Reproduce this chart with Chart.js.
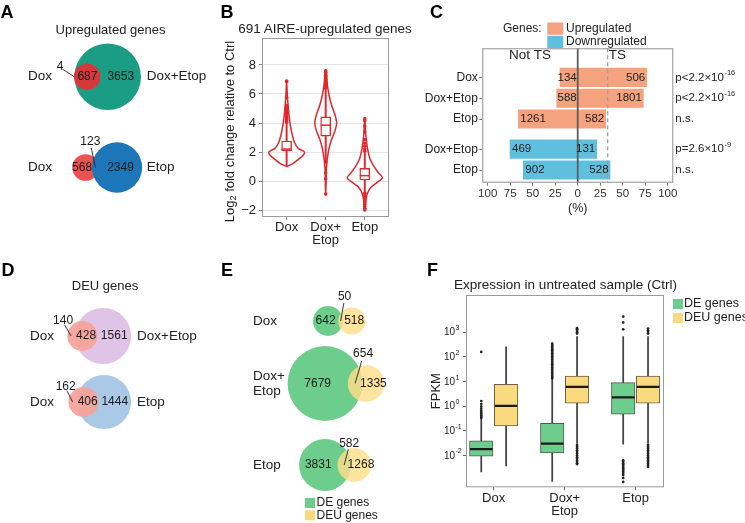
<!DOCTYPE html>
<html>
<head>
<meta charset="utf-8">
<title>AIRE-regulated genes under Dox / Etop</title>
<script src="https://cdn.jsdelivr.net/npm/chart.js@4.4.1/dist/chart.umd.min.js"></script>
<style>
  html, body { margin: 0; padding: 0; background: #fff; }
  body { position: relative; width: 745px; height: 523px; overflow: hidden;
         font-family: 'Liberation Sans', Arial, Helvetica, sans-serif; color: #222; }
  canvas { position: absolute; }
  .txt { position: absolute; white-space: nowrap; line-height: 1; }
</style>
</head>
<body>
<canvas id="venA" width="220" height="260" style="left:0px;top:0px"></canvas>
<canvas id="violin" width="240" height="245" style="left:200px;top:15px"></canvas>
<canvas id="tsBars" width="340" height="210" style="left:405px;top:10px"></canvas>
<canvas id="venD" width="220" height="263" style="left:0px;top:260px"></canvas>
<canvas id="venE" width="220" height="263" style="left:220px;top:260px"></canvas>
<canvas id="fpkm" width="320" height="258" style="left:425px;top:265px"></canvas>
<script>
// ---------------- data ----------------
const treatments = ['Dox', 'Dox+Etop', 'Etop'];

// A: upregulated genes  [left only, shared, right only]
const upDoxVsDoxEtop = [4, 687, 3653];
const upDoxVsEtop = [568, 123, 2349];

// B: log2 fold change of the 691 AIRE-upregulated genes (violin outline + box)
const violinYDox = [1.0, 1.22, 1.56, 1.79, 1.98, 2.1, 2.25, 2.6, 3.17, 3.86, 4.55, 5.47, 6.1, 6.9];
const violinWDox = [0, 0.17, 0.33, 0.43, 0.46, 0.40, 0.30, 0.21, 0.145, 0.095, 0.06, 0.03, 0.015, 0];
const violinYDoxEtop = [-0.92, -0.05, 0.87, 1.56, 2.25, 2.83, 3.4, 3.98, 4.55, 5.24, 5.93, 6.62, 7.54, 7.65];
const violinWDoxEtop = [0, 0.01, 0.017, 0.043, 0.085, 0.145, 0.23, 0.28, 0.24, 0.15, 0.085, 0.043, 0.01, 0];
const violinYEtop = [-2.0, -1.66, -1.2, -0.74, -0.39, -0.09, 0.23, 0.6, 0.99, 1.56, 2.25, 3.17, 4.32];
const violinWEtop = [0, 0.015, 0.035, 0.085, 0.17, 0.32, 0.45, 0.34, 0.24, 0.13, 0.07, 0.026, 0];
const bQ1 = [2.07, 3.1, 0.07];
const bMedian = [2.2, 3.85, 0.37];
const bQ3 = [2.76, 4.42, 0.87];
const bWhiskLo = [1.05, 1.4, -0.8];
const bWhiskHi = [4.0, 6.3, 1.95];
const bOutDox = [6.9, 6.85, 5.75, 5.2, 5.05, 4.95, 4.85, 4.7, 4.6, 4.45, 4.35, 4.25, 4.15, 4.05];
const bOutDoxEtop = [7.6, 7.5, 7.4, 7.3, 7.2, 7.1, 7.0, 6.9, 6.8, 6.7, 6.6, 6.5, 6.4, 1.3, 0.55, 0.15, -0.9];
const bOutEtop = [4.3, 4.15, 3.8, 3.4, 2.85, 2.6, 2.4, 2.2, 2.05, -0.85, -1.0, -1.15, -1.3, -1.45, -1.6, -1.75, -1.9, -2.0];
const bTicks = [-2, 0, 2, 4, 6, 8];

// C: tissue-specific (TS) share of regulated genes
const tsRows = ['Dox', 'Dox+Etop', 'Etop', 'Dox+Etop', 'Etop'];
const tsDirection = ['Upregulated', 'Upregulated', 'Upregulated', 'Downregulated', 'Downregulated'];
const notTsCount = [134, 588, 1261, 469, 902];
const tsCount = [506, 1801, 582, 131, 528];
const notTsPct = [19.7, 23.3, 66.0, 75.2, 60.4];
const tsPct = [76.7, 72.9, 31.1, 21.1, 35.9];
const pText = ['p<2.2×10', 'p<2.2×10', 'n.s.', 'p=2.6×10', 'n.s.'];
const pExp = ['-16', '-16', '', '-9', ''];
const tsReference = 33.3;
const pctTicks = [-100, -75, -50, -25, 0, 25, 50, 75, 100];

// D: DEU genes
const deuDoxVsDoxEtop = [140, 428, 1561];
const deuDoxVsEtop = [162, 406, 1444];

// E: DE genes vs DEU genes  [DE only, both, DEU only]
const deDeuDox = [642, 50, 518];
const deDeuDoxEtop = [7679, 654, 1335];
const deDeuEtop = [3831, 582, 1268];

// F: FPKM in untreated sample
const deQ1 = [0.0093, 0.0126, 0.47];
const deMedian = [0.0178, 0.030, 2.24];
const deQ3 = [0.039, 0.20, 8.9];
const deWhiskLo = [0.0021, 0.00087, 0.028];
const deWhiskHi = [0.30, 11.5, 660];
const deuQ1 = [0.155, 1.3, 1.3];
const deuMedian = [1.02, 6.0, 6.0];
const deuQ3 = [7.6, 16.6, 16.6];
const deuWhiskLo = [0.0037, 0.030, 0.030];
const deuWhiskHi = [257, 660, 660];
const deOutDox = [158, 1.6, 1.2, 0.95, 0.78, 0.65, 0.55, 0.47, 0.41, 0.36, 0.33];
const deOutDoxEtop = [340, 300, 265, 235, 205, 180, 160, 140, 120, 105, 90, 78, 67, 58, 50, 43, 37, 32, 27, 23, 20, 17, 15, 13];
const deOutEtop = [4300, 2500, 1300, 0.0063, 0.0055, 0.0048, 0.0042, 0.0037, 0.0032, 0.0028, 0.0025, 0.0022, 0.0019, 0.0016, 0.0012, 0.00083];
const deuOutDox = [];
const deuOutDoxEtop = [1450, 1300, 1150, 1000, 880, 0.026, 0.022, 0.019, 0.016, 0.0135, 0.0115, 0.0098, 0.0084, 0.0072, 0.0062, 0.0054, 0.0047, 0.0044];
const deuOutEtop = [1400, 1200, 1020, 880, 0.026, 0.022, 0.019, 0.016, 0.0135, 0.0115, 0.0098, 0.0084, 0.0072, 0.0062, 0.0054, 0.0046, 0.004, 0.0034];
const fpkmTickExp = [-2, -1, 0, 1, 2, 3];

// ---------------- setup ----------------
const FONT = "'Liberation Sans', Arial, Helvetica, sans-serif";
Chart.defaults.font.family = FONT;
Chart.defaults.font.size = 12;
Chart.defaults.color = '#222';
Chart.defaults.animation = false;
Chart.defaults.responsive = false;
Chart.defaults.events = [];
Chart.defaults.layout.autoPadding = false;
Chart.defaults.plugins.legend.display = false;
Chart.defaults.plugins.tooltip.enabled = false;

const splitPlus = name => name.includes('+')
  ? [name.slice(0, name.indexOf('+') + 1), name.slice(name.indexOf('+') + 1)]
  : name;

// html text for panel letters and titles
function label(text, x, y, size, align, bold) {
  const d = document.createElement('div');
  d.className = 'txt';
  d.textContent = text;
  d.style.fontSize = size + 'px';
  if (bold) { d.style.fontWeight = 'bold'; d.style.color = '#000'; }
  d.style.left = x + 'px';
  d.style.top = (y - 0.4885 * size) + 'px';
  if (align === 'center') d.style.transform = 'translateX(-50%)';
  if (align === 'right') d.style.transform = 'translateX(-100%)';
  document.body.appendChild(d);
}
[['A', 0.5, 11.5], ['B', 220.5, 11.5], ['C', 430, 11.5],
 ['D', 1.5, 269.5], ['E', 221, 269.5], ['F', 427, 269.5]].forEach(p => label(p[0], p[1], p[2], 18, 'left', true));
label('Upregulated genes', 110.5, 29, 13, 'center');
label('691 AIRE-upregulated genes', 325, 29, 13.5, 'center');
label('DEU genes', 105, 285.5, 13, 'center');
label('Expression in untreated sample (Ctrl)', 565.5, 284.5, 13.5, 'center');

function frame(color) {
  return {
    id: 'frame',
    afterDraw(chart) {
      const a = chart.chartArea, ctx = chart.ctx;
      ctx.save();
      ctx.strokeStyle = color;
      ctx.lineWidth = 1;
      ctx.strokeRect(a.left + 0.5, a.top + 0.5, a.right - a.left - 1, a.bottom - a.top - 1);
      ctx.restore();
    }
  };
}

// ---------------- Venn diagrams (A, D, E) ----------------
function lensArea(r1, r2, d) {
  if (d >= r1 + r2) return 0;
  if (d <= Math.abs(r1 - r2)) return Math.PI * Math.min(r1, r2) ** 2;
  const a = r1 * r1 * Math.acos((d * d + r1 * r1 - r2 * r2) / (2 * d * r1));
  const b = r2 * r2 * Math.acos((d * d + r2 * r2 - r1 * r1) / (2 * d * r2));
  const c = 0.5 * Math.sqrt((-d + r1 + r2) * (d + r1 - r2) * (d - r1 + r2) * (d + r1 + r2));
  return a + b - c;
}

// circle areas proportional to counts, distance solved from the shared count
function vennLayout(v) {
  const [a, ab, b] = v.counts;
  const rl = v.k * Math.sqrt(a + ab), rr = v.k * Math.sqrt(ab + b);
  const target = Math.PI * v.k * v.k * ab;
  let lo = Math.abs(rl - rr), hi = rl + rr;
  for (let i = 0; i < 60; i++) {
    const m = (lo + hi) / 2;
    if (lensArea(rl, rr, m) > target) lo = m; else hi = m;
  }
  const d = (lo + hi) / 2;
  const lx = v.anchor === 'right' ? v.cx - d : v.cx;
  return { rl, rr, lx, rx: lx + d, cy: v.cy };
}

function makeVenn(id, venns, opts) {
  const geos = venns.map(v => ({ v, g: vennLayout(v) }));
  const cv = document.getElementById(id);
  const datasets = geos.map(({ v, g }) => {
    let pts = [{ x: g.lx, y: g.cy, r: g.rl }, { x: g.rx, y: g.cy, r: g.rr }];
    let cols = v.colors.slice();
    if (v.front === 'left') { pts = pts.reverse(); cols = cols.reverse(); }
    return { data: pts, backgroundColor: cols, borderWidth: 0, hoverBorderWidth: 0, hoverRadius: 0, clip: false };
  });
  return new Chart(cv, {
    type: 'bubble',
    data: { datasets },
    options: {
      layout: { padding: 0, autoPadding: false },
      scales: {
        x: { type: 'linear', min: 0, max: cv.width, display: false },
        y: { type: 'linear', min: 0, max: cv.height, reverse: true, display: false }
      }
    },
    plugins: [{
      id: 'vennText',
      afterDatasetsDraw(chart) {
        const ctx = chart.ctx, xs = chart.scales.x, ys = chart.scales.y;
        const X = val => xs.getPixelForValue(val), Y = val => ys.getPixelForValue(val);
        ctx.save();
        ctx.textBaseline = 'middle';
        const num = (t, x, y) => {
          ctx.font = opts.numSize + 'px ' + FONT; ctx.fillStyle = '#1a1a1a'; ctx.textAlign = 'center';
          ctx.fillText(String(t), X(x), Y(y));
        };
        const leader = (t, x, y, off) => {
          ctx.strokeStyle = '#222'; ctx.lineWidth = 0.9;
          ctx.beginPath();
          ctx.moveTo(X(x), Y(y));
          ctx.lineTo(X(x + off[0] * 0.82), Y(y + off[1] * 0.75));
          ctx.stroke();
          num(t, x + off[0], y + off[1]);
        };
        geos.forEach(({ v, g }) => {
          const [a, ab, b] = v.counts;
          const Ll = g.lx - g.rl, Lr = g.lx + g.rl, Rl = g.rx - g.rr, Rr = g.rx + g.rr;
          const leftMid = (Ll + Math.max(Ll, Rl)) / 2;
          const lensMid = (Math.max(Ll, Rl) + Math.min(Lr, Rr)) / 2;
          const rightMid = (Math.min(Lr, Rr) + Rr) / 2;
          if (v.leftLabel === 'leader') leader(a, leftMid, g.cy, v.lead); else num(a, leftMid, g.cy);
          if (v.overlapLabel === 'leader') leader(ab, lensMid, g.cy, v.lead); else num(ab, lensMid, g.cy);
          num(b, rightMid, g.cy);
          ctx.font = opts.nameSize + 'px ' + FONT; ctx.fillStyle = '#222'; ctx.textAlign = 'left';
          const lines = [].concat(v.names[0]);
          lines.forEach((ln, i) => ctx.fillText(ln, opts.nameLeftX, Y(g.cy) + (i - (lines.length - 1) / 2) * 15));
          if (v.names[1]) ctx.fillText(v.names[1], opts.nameRightX, Y(g.cy));
        });
        if (opts.legend) {
          ctx.font = '12px ' + FONT; ctx.textAlign = 'left';
          opts.legend.items.forEach((it, i) => {
            ctx.fillStyle = it[1];
            ctx.fillRect(opts.legend.x, opts.legend.y + i * 12.3, 10, 10);
            ctx.fillStyle = '#222';
            ctx.fillText(it[0], opts.legend.x + 11.5, opts.legend.y + 5 + i * 12.3);
          });
        }
        ctx.restore();
      }
    }]
  });
}

makeVenn('venA', [
  { counts: upDoxVsDoxEtop, names: ['Dox', 'Dox+Etop'], k: 0.5055, cx: 107.7, cy: 76.7, anchor: 'right',
    colors: ['#d3393a', '#1b9d85'], front: 'left', leftLabel: 'leader', overlapLabel: 'inside', lead: [-14, -10] },
  { counts: upDoxVsEtop, names: ['Dox', 'Etop'], k: 0.5055, cx: 117, cy: 167.5, anchor: 'right',
    colors: ['#ef5152', '#1c76b8'], front: 'right', leftLabel: 'inside', overlapLabel: 'leader', lead: [-5, -26] }
], { nameLeftX: 28, nameRightX: 146.7, numSize: 12, nameSize: 13.5 });

makeVenn('venD', [
  { counts: deuDoxVsDoxEtop, names: ['Dox', 'Dox+Etop'], k: 0.63, cx: 103, cy: 76, anchor: 'right',
    colors: ['rgba(246,163,156,0.95)', '#dfc4e7'], front: 'left', leftLabel: 'leader', overlapLabel: 'inside', lead: [-8, -15] },
  { counts: deuDoxVsEtop, names: ['Dox', 'Etop'], k: 0.63, cx: 104, cy: 142, anchor: 'right',
    colors: ['rgba(246,163,156,0.95)', '#a9c9e6'], front: 'left', leftLabel: 'leader', overlapLabel: 'inside', lead: [-7, -15] }
], { nameLeftX: 30, nameRightX: 137, numSize: 12, nameSize: 13.5 });

const deFill = '#6dcd8d', deuFill = '#fbd97e';
makeVenn('venE', [
  { counts: deDeuDox, names: [splitPlus(treatments[0])], k: 0.57, cx: 108, cy: 61, anchor: 'left',
    colors: [deFill, 'rgba(252,222,138,0.82)'], front: 'right', leftLabel: 'inside', overlapLabel: 'leader', lead: [4, -24] },
  { counts: deDeuDoxEtop, names: [splitPlus(treatments[1])], k: 0.41, cx: 105, cy: 123.5, anchor: 'left',
    colors: [deFill, 'rgba(252,222,138,0.82)'], front: 'right', leftLabel: 'inside', overlapLabel: 'leader', lead: [8, -30] },
  { counts: deDeuEtop, names: [splitPlus(treatments[2])], k: 0.39, cx: 105, cy: 205, anchor: 'left',
    colors: [deFill, 'rgba(252,222,138,0.82)'], front: 'right', leftLabel: 'inside', overlapLabel: 'leader', lead: [5, -21] }
], { nameLeftX: 33, numSize: 12, nameSize: 13.5,
     legend: { x: 85, y: 238, items: [['DE genes', deFill], ['DEU genes', deuFill]] } });

// ---------------- B: violins ----------------
const red = '#e1262c';
function violinOutline(center, levels, halfW) {
  const right = levels.map((y, i) => ({ x: center + halfW[i], y }));
  const left = levels.map((y, i) => ({ x: center - halfW[i], y })).reverse().slice(1);
  return right.concat(left);
}
const violinSets = [[violinYDox, violinWDox], [violinYDoxEtop, violinWDoxEtop], [violinYEtop, violinWEtop]];
const bOutliers = [bOutDox, bOutDoxEtop, bOutEtop];

new Chart(document.getElementById('violin'), {
  type: 'bar',
  data: {
    datasets: [
      { type: 'scatter', data: bOutliers.flatMap((arr, i) => arr.map(y => ({ x: i + 1, y }))),
        pointRadius: 1.8, pointBackgroundColor: red, pointBorderWidth: 0, order: 0 },
      { type: 'scatter', data: treatments.map((t, i) => ({ x: i + 1, y: bMedian[i] })),
        pointStyle: 'line', pointRadius: 5, pointBorderColor: red, pointBorderWidth: 1.5, order: 0 },
      { type: 'bar', data: treatments.map((t, i) => ({ x: i + 1, y: [bQ1[i], bQ3[i]] })),
        backgroundColor: '#fff', borderColor: red, borderWidth: 1.4, borderSkipped: false,
        barThickness: 10, grouped: false, order: 1 },
      { type: 'bar', data: treatments.map((t, i) => ({ x: i + 1, y: [bWhiskLo[i], bWhiskHi[i]] })),
        backgroundColor: red, barThickness: 1.3, grouped: false, order: 2 },
      ...violinSets.map((s, i) => ({
        type: 'line', data: violinOutline(i + 1, s[0], s[1]), borderColor: red, borderWidth: 1.5,
        pointRadius: 0, tension: 0.3, fill: false, order: 3
      }))
    ]
  },
  options: {
    layout: { padding: { top: 23, right: 51, left: 0, bottom: 0 } },
    scales: {
      x: { type: 'linear', min: 0.37, max: 3.62, offset: false,
           afterBuildTicks: s => { s.ticks = treatments.map((t, i) => ({ value: i + 1 })); },
           ticks: { callback: (v, i) => splitPlus(treatments[i]), font: { size: 13, lineHeight: 1 },
                    color: '#222', padding: 1, autoSkip: false, maxRotation: 0 },
           grid: { offset: false, drawOnChartArea: false, tickLength: 3, tickColor: '#888' },
           border: { display: false },
           afterFit: s => { s.height = 43; } },
      y: { type: 'linear', min: -2.48, max: 9.86,
           afterBuildTicks: s => { s.ticks = bTicks.map(v => ({ value: v })); },
           ticks: { callback: v => (v < 0 ? '\u2212' + Math.abs(v) : String(v)), font: { size: 13 },
                    color: '#222', padding: 3 },
           grid: { color: '#e6e6e6', tickLength: 3, tickColor: '#888' },
           border: { display: false },
           afterFit: s => { s.width = 62; } }
    }
  },
  plugins: [frame('#9a9a9a'), {
    id: 'yTitle',
    afterDraw(chart) {
      const { ctx, chartArea: a } = chart;
      const big = '13px ' + FONT, small = '9px ' + FONT;
      const parts = [['Log', big, 0], ['2', small, 4], [' fold change relative to Ctrl', big, 0]];
      ctx.save();
      let w = 0;
      parts.forEach(p => { ctx.font = p[1]; w += ctx.measureText(p[0]).width; });
      ctx.translate(30, (a.top + a.bottom) / 2 + 4);
      ctx.rotate(-Math.PI / 2);
      ctx.fillStyle = '#222'; ctx.textBaseline = 'middle'; ctx.textAlign = 'left';
      let x = -w / 2;
      parts.forEach(p => { ctx.font = p[1]; ctx.fillText(p[0], x, p[2]); x += ctx.measureText(p[0]).width; });
      ctx.restore();
    }
  }]
});

// ---------------- C: TS share bars ----------------
const upColor = '#f5a27e', downColor = '#5fbfdf';
const rowPos = [1, 2, 3, 4.45, 5.45];   // gap between the up and down blocks

new Chart(document.getElementById('tsBars'), {
  type: 'bar',
  data: {
    datasets: [{
      data: tsRows.map((r, i) => ({ y: rowPos[i], x: [-notTsPct[i], tsPct[i]] })),
      backgroundColor: tsDirection.map(d => (d === 'Upregulated' ? upColor : downColor)),
      borderWidth: 0, barThickness: 18.5, grouped: false
    }]
  },
  options: {
    indexAxis: 'y',
    layout: { padding: { top: 38.3, right: 71.7, left: 0, bottom: 0 } },
    scales: {
      x: { type: 'linear', min: -106, max: 106.2, offset: false,
           afterBuildTicks: s => { s.ticks = pctTicks.map(v => ({ value: v })); },
           ticks: { callback: v => String(Math.abs(v)), font: { size: 11.5 }, color: '#333', padding: 1,
                    autoSkip: false, maxRotation: 0 },
           grid: { offset: false, drawOnChartArea: false, tickLength: 3, tickColor: '#777' },
           border: { display: false },
           title: { display: true, text: '(%)', font: { size: 12.5 }, color: '#222', padding: { top: 0, bottom: 4 } },
           afterFit: s => { s.height = 37.3; } },
      y: { type: 'linear', reverse: true, min: -0.4, max: 6.06, offset: false,
           afterBuildTicks: s => { s.ticks = rowPos.map(v => ({ value: v })); },
           ticks: { callback: (v, i) => tsRows[i], font: { size: 12 }, color: '#222', padding: 1.5, autoSkip: false },
           grid: { offset: false, drawOnChartArea: false, tickLength: 3, tickColor: '#777' },
           border: { display: false },
           afterFit: s => { s.width = 77.3; } }
    }
  },
  plugins: [frame('#8f8f8f'), {
    id: 'tsDecor',
    afterDatasetsDraw(chart) {
      const { ctx, chartArea: a, scales: { x, y } } = chart;
      const x0 = x.getPixelForValue(0), xr = x.getPixelForValue(tsReference);
      ctx.save();
      // zero line and TS reference line
      ctx.strokeStyle = '#5c5c5c'; ctx.lineWidth = 1.8;
      ctx.beginPath(); ctx.moveTo(x0, a.top); ctx.lineTo(x0, a.bottom); ctx.stroke();
      ctx.strokeStyle = '#9c9c9c'; ctx.lineWidth = 1.2; ctx.setLineDash([4, 3]);
      ctx.beginPath(); ctx.moveTo(xr, a.top); ctx.lineTo(xr, a.bottom); ctx.stroke();
      ctx.setLineDash([]);
      // counts inside bars
      ctx.fillStyle = '#222'; ctx.textBaseline = 'middle';
      ctx.font = '11.5px ' + FONT;
      tsRows.forEach((r, i) => {
        const yy = y.getPixelForValue(rowPos[i]);
        const t1 = String(notTsCount[i]);
        const w1 = ctx.measureText(t1).width;
        const left = Math.min(x.getPixelForValue(-notTsPct[i]) + 2, x0 - 1 - w1);
        ctx.textAlign = 'left'; ctx.fillText(t1, left, yy);
        ctx.textAlign = 'right'; ctx.fillText(String(tsCount[i]), x.getPixelForValue(tsPct[i]) - 1.5, yy);
        // p values
        ctx.textAlign = 'left'; ctx.font = '11.5px ' + FONT;
        ctx.fillText(pText[i], a.right + 2, yy);
        if (pExp[i]) {
          const w = ctx.measureText(pText[i]).width;
          ctx.font = '7.5px ' + FONT;
          ctx.fillText(pExp[i], a.right + 2.5 + w, yy - 4.5);
          ctx.font = '11.5px ' + FONT;
        }
      });
      // Not TS / TS headers
      ctx.font = '13.5px ' + FONT;
      ctx.textAlign = 'center'; ctx.fillText('Not TS', (a.left + x0) / 2, a.top + 7);
      ctx.textAlign = 'left'; ctx.fillText('TS', xr + 1, a.top + 7);
      // legend
      ctx.font = '12px ' + FONT;
      ctx.textAlign = 'right'; ctx.fillText('Genes:', 136.7, 19);
      [['Upregulated', upColor], ['Downregulated', downColor]].forEach((it, i) => {
        ctx.fillStyle = it[1]; ctx.fillRect(142.3, 12.5 + i * 13.3, 16, 12.3);
        ctx.fillStyle = '#222'; ctx.textAlign = 'left'; ctx.fillText(it[0], 161, 19 + i * 12.5);
      });
      ctx.restore();
    }
  }]
});

// ---------------- F: FPKM boxes ----------------
const groupOffset = 0.175;
const deLine = '#4f5a52', deuLine = '#6b6046';
const deOutliers = [deOutDox, deOutDoxEtop, deOutEtop];
const deuOutliers = [deuOutDox, deuOutDoxEtop, deuOutEtop];
const px = (i, side) => i + 1 + side * groupOffset;

new Chart(document.getElementById('fpkm'), {
  type: 'bar',
  data: {
    datasets: [
      { type: 'scatter', data: [
          ...deOutliers.flatMap((arr, i) => arr.map(y => ({ x: px(i, -1), y }))),
          ...deuOutliers.flatMap((arr, i) => arr.map(y => ({ x: px(i, 1), y })))],
        pointRadius: 1.35, pointBackgroundColor: '#222', pointBorderWidth: 0, order: 0 },
      { type: 'scatter', data: [
          ...treatments.map((t, i) => ({ x: px(i, -1), y: deMedian[i] })),
          ...treatments.map((t, i) => ({ x: px(i, 1), y: deuMedian[i] }))],
        pointStyle: 'line', pointRadius: 11.3, pointBorderColor: '#1a1a1a', pointBorderWidth: 2.2, order: 0 },
      { type: 'bar', label: 'DE genes', data: treatments.map((t, i) => ({ x: px(i, -1), y: [deQ1[i], deQ3[i]] })),
        backgroundColor: deFill, borderColor: deLine, borderWidth: 1, borderSkipped: false,
        barThickness: 23.5, grouped: false, order: 1 },
      { type: 'bar', label: 'DEU genes', data: treatments.map((t, i) => ({ x: px(i, 1), y: [deuQ1[i], deuQ3[i]] })),
        backgroundColor: deuFill, borderColor: deuLine, borderWidth: 1, borderSkipped: false,
        barThickness: 23.5, grouped: false, order: 1 },
      { type: 'bar', data: [
          ...treatments.map((t, i) => ({ x: px(i, -1), y: [deWhiskLo[i], deWhiskHi[i]] })),
          ...treatments.map((t, i) => ({ x: px(i, 1), y: [deuWhiskLo[i], deuWhiskHi[i]] }))],
        backgroundColor: '#444', barThickness: 1.1, grouped: false, order: 2 }
    ]
  },
  options: {
    layout: { padding: { top: 30, right: 81, left: 0, bottom: 0 } },
    scales: {
      x: { type: 'linear', min: 0.61, max: 3.40, offset: false,
           afterBuildTicks: s => { s.ticks = treatments.map((t, i) => ({ value: i + 1 })); },
           ticks: { callback: (v, i) => splitPlus(treatments[i]), font: { size: 13, lineHeight: 1.05 },
                    color: '#222', padding: 1, autoSkip: false, maxRotation: 0 },
           grid: { offset: false, drawOnChartArea: false, tickLength: 3, tickColor: '#666' },
           border: { display: false },
           afterFit: s => { s.height = 35.7; } },
      y: { type: 'logarithmic', min: Math.pow(10, -3.3), max: Math.pow(10, 4.51),
           afterBuildTicks: s => { s.ticks = fpkmTickExp.map(e => ({ value: Math.pow(10, e) })); },
           ticks: { callback: () => '' },
           grid: { drawOnChartArea: false, tickLength: 3, tickColor: '#666' },
           border: { display: false },
           title: { display: true, text: 'FPKM', font: { size: 13 }, color: '#222', padding: { top: 4, bottom: 0 } },
           afterFit: s => { s.width = 41; } }
    }
  },
  plugins: [frame('#9a9a9a'), {
    id: 'fpkmDecor',
    afterDraw(chart) {
      const { ctx, chartArea: a, scales: { y } } = chart;
      ctx.save();
      ctx.fillStyle = '#222'; ctx.textBaseline = 'middle'; ctx.textAlign = 'left';
      fpkmTickExp.forEach(e => {
        const yy = y.getPixelForValue(Math.pow(10, e));
        ctx.font = '10px ' + FONT;
        ctx.fillText('10', 19, yy + 0.5);
        const w = ctx.measureText('10').width;
        ctx.font = '7px ' + FONT;
        ctx.fillText(e < 0 ? '-' + Math.abs(e) : String(e), 19 + w + 0.3, yy - 3.8);
      });
      ctx.font = '12.5px ' + FONT;
      chart.data.datasets.filter(d => d.label).forEach((d, i) => {
        ctx.fillStyle = d.backgroundColor;
        ctx.fillRect(a.right + 9, a.top + 4 + i * 14, 10, 10);
        ctx.fillStyle = '#222';
        ctx.fillText(d.label, a.right + 20, a.top + 9 + i * 14);
      });
      ctx.restore();
    }
  }]
});
</script>
</body>
</html>
